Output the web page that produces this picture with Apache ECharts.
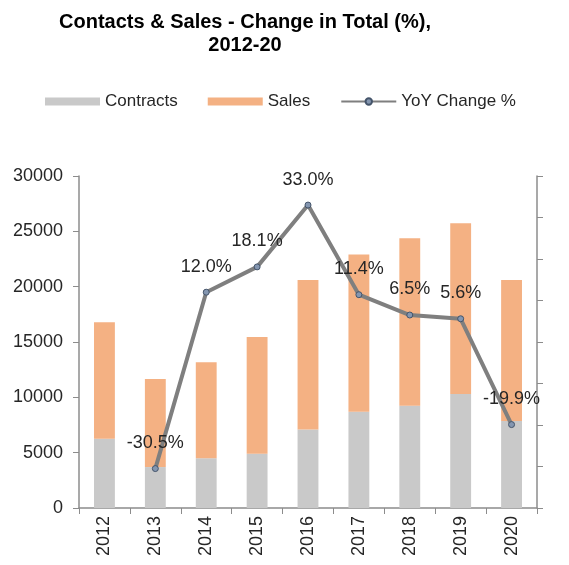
<!DOCTYPE html>
<html>
<head>
<meta charset="utf-8">
<script src="https://cdn.jsdelivr.net/npm/echarts@6/dist/echarts.min.js"></script>
<style>
  html, body { margin: 0; padding: 0; background: #fff; }
  #chart { width: 569px; height: 565px; }
</style>
</head>
<body>
<div id="chart"></div>
<script>
const years = ['2012', '2013', '2014', '2015', '2016', '2017', '2018', '2019', '2020'];
const contracts = [6250, 3700, 4500, 4900, 7090, 8690, 9230, 10310, 7870];
const sales = [10530, 7960, 8670, 10550, 13510, 14210, 15150, 15420, 12730];
const yoyChange = [null, -30.5, 12.0, 18.1, 33.0, 11.4, 6.5, 5.6, -19.9];

const chart = echarts.init(document.getElementById('chart'));

const axisColor = '#8c8c8c';
const textColor = '#262626';
const font = 'Liberation Sans, Arial, sans-serif';

const option = {
  animation: false,
  title: {
    text: 'Contacts & Sales - Change in Total (%),\n2012-20',
    left: 240,
    textAlign: 'center',
    top: 6,
    textStyle: {
      fontFamily: font,
      fontSize: 20,
      fontWeight: 'bold',
      color: '#000',
      lineHeight: 23
    }
  },
  legend: {
    top: 88,
    left: 40,
    itemWidth: 55,
    itemHeight: 8,
    itemGap: 30,
    textStyle: { fontFamily: font, fontSize: 17, color: textColor },
    data: [
      { name: 'Contracts', icon: 'rect' },
      { name: 'Sales', icon: 'rect' },
      { name: 'YoY Change %' }
    ]
  },
  grid: {
    left: 79,
    right: 32,
    top: 176,
    bottom: 57
  },
  xAxis: {
    type: 'category',
    data: years,
    axisLine: { lineStyle: { color: axisColor, width: 1.5 } },
    axisTick: { show: true, length: 6, lineStyle: { color: axisColor } },
    axisLabel: {
      rotate: 90,
      fontFamily: font,
      fontSize: 18,
      color: textColor,
      margin: 8
    }
  },
  yAxis: [
    {
      type: 'value',
      min: 0,
      max: 30000,
      interval: 5000,
      splitLine: { show: false },
      axisLine: { show: true, lineStyle: { color: axisColor, width: 1.5 } },
      axisTick: { show: true, inside: false, length: 6, lineStyle: { color: axisColor } },
      axisLabel: {
        fontFamily: font,
        fontSize: 18,
        color: textColor,
        margin: 16,
        formatter: v => String(v)
      }
    },
    {
      type: 'value',
      min: -40,
      max: 40,
      interval: 10,
      position: 'right',
      splitLine: { show: false },
      axisLine: { show: true, lineStyle: { color: axisColor, width: 1.5 } },
      axisTick: { show: true, length: 6, lineStyle: { color: axisColor } },
      axisLabel: { show: false }
    }
  ],
  series: [
    {
      name: 'Contracts',
      type: 'bar',
      stack: 'total',
      barWidth: '41%',
      itemStyle: { color: '#c9c9c9' },
      data: contracts
    },
    {
      name: 'Sales',
      type: 'bar',
      stack: 'total',
      barWidth: '41%',
      itemStyle: { color: '#f4b183' },
      data: sales
    },
    {
      name: 'YoY Change %',
      type: 'line',
      yAxisIndex: 1,
      symbol: 'circle',
      symbolSize: 6,
      lineStyle: { color: '#7f7f7f', width: 4 },
      itemStyle: { color: '#8496b0', borderColor: '#44546a', borderWidth: 1 },
      label: {
        show: true,
        position: 'top',
        distance: 13,
        fontFamily: font,
        fontSize: 18,
        color: textColor,
        formatter: p => p.value.toFixed(1) + '%'
      },
      data: yoyChange
    }
  ]
};

chart.setOption(option);
</script>
</body>
</html>
